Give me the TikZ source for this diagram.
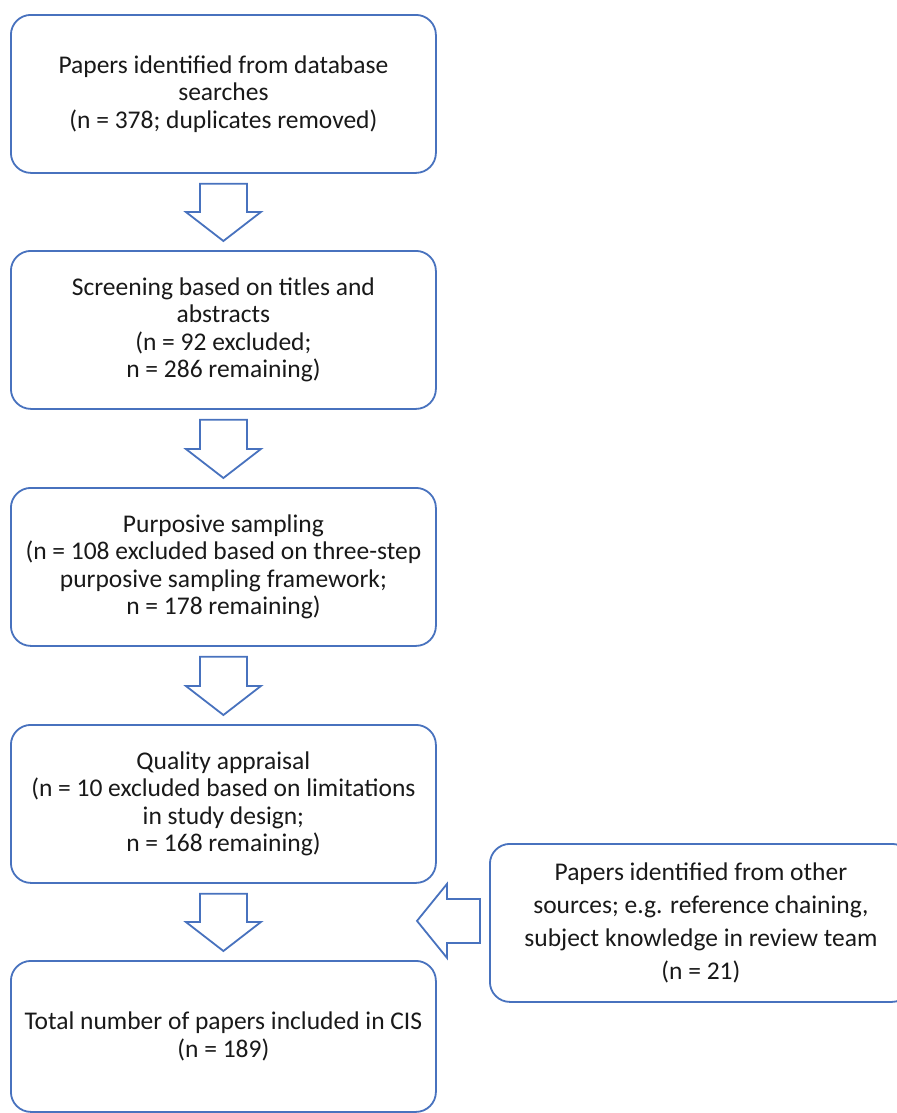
\documentclass[tikz,border=0pt]{standalone}
\usepackage{fontspec}
\setmainfont{Carlito}
\usetikzlibrary{calc}
\definecolor{boxblue}{RGB}{72,114,190}
\definecolor{txt}{RGB}{25,25,25}
\newcommand{\blockdown}[2]{%
  \draw[blockarrow] let \p1=(#1.south), \p2=(#2.north) in
    (\x1-23.5bp,\y1-10bp) -- (\x1+23.5bp,\y1-10bp) -- (\x1+23.5bp,\y2+38bp)
    -- (\x1+37.5bp,\y2+38bp) -- (\x1,\y2+9bp) -- (\x1-37.5bp,\y2+38bp)
    -- (\x1-23.5bp,\y2+38bp) -- cycle;}
\begin{document}
\begin{tikzpicture}[x=1bp,y=-1bp,
  flowbox/.style={draw=boxblue, line width=1.8bp, rounded corners=20bp, fill=white,
    minimum width=425bp, minimum height=158bp, align=center, text=txt,
    font=\fontsize{25.5bp}{27.5bp}\selectfont, inner sep=0pt, anchor=north west},
  sidebox/.style={flowbox, minimum width=422bp, font=\fontsize{25.5bp}{33bp}\selectfont},
  blockarrow/.style={draw=boxblue, line width=1.8bp, fill=white, line join=miter}]
\useasboundingbox (0,0) rectangle (897,1113);
\clip (0,0) rectangle (897,1113);
\node[flowbox] (b1) at (10,14) {Papers identified from database\\searches\\(n = 378; duplicates removed)};
\node[flowbox] (b2) at (10,250) {Screening based on titles and\\abstracts\\(n = 92 excluded;\\n = 286 remaining)};
\node[flowbox] (b3) at (10,487) {Purposive sampling\\(n = 108 excluded based on three-step\\purposive sampling framework;\\n = 178 remaining)};
\node[flowbox] (b4) at (10,724) {Quality appraisal\\(n = 10 excluded based on limitations\\in study design;\\n = 168 remaining)};
\node[flowbox, minimum height=151bp] (b5) at (10,960) {Total number of papers included in CIS\\(n = 189)};
\node[sidebox] (rb) at (489,843) {Papers identified from other\\sources; e.g. reference chaining,\\subject knowledge in review team\\(n = 21)};
\blockdown{b1}{b2}
\blockdown{b2}{b3}
\blockdown{b3}{b4}
\blockdown{b4}{b5}
\draw[blockarrow] let \p1=(rb.west) in
  (\x1-9bp,\y1+24bp) -- (\x1-42bp,\y1+24bp) -- (\x1-42bp,\y1+39bp)
  -- (\x1-72bp,\y1+2bp) -- (\x1-42bp,\y1-35bp) -- (\x1-42bp,\y1-20bp)
  -- (\x1-9bp,\y1-20bp) -- cycle;
\end{tikzpicture}
\end{document}
